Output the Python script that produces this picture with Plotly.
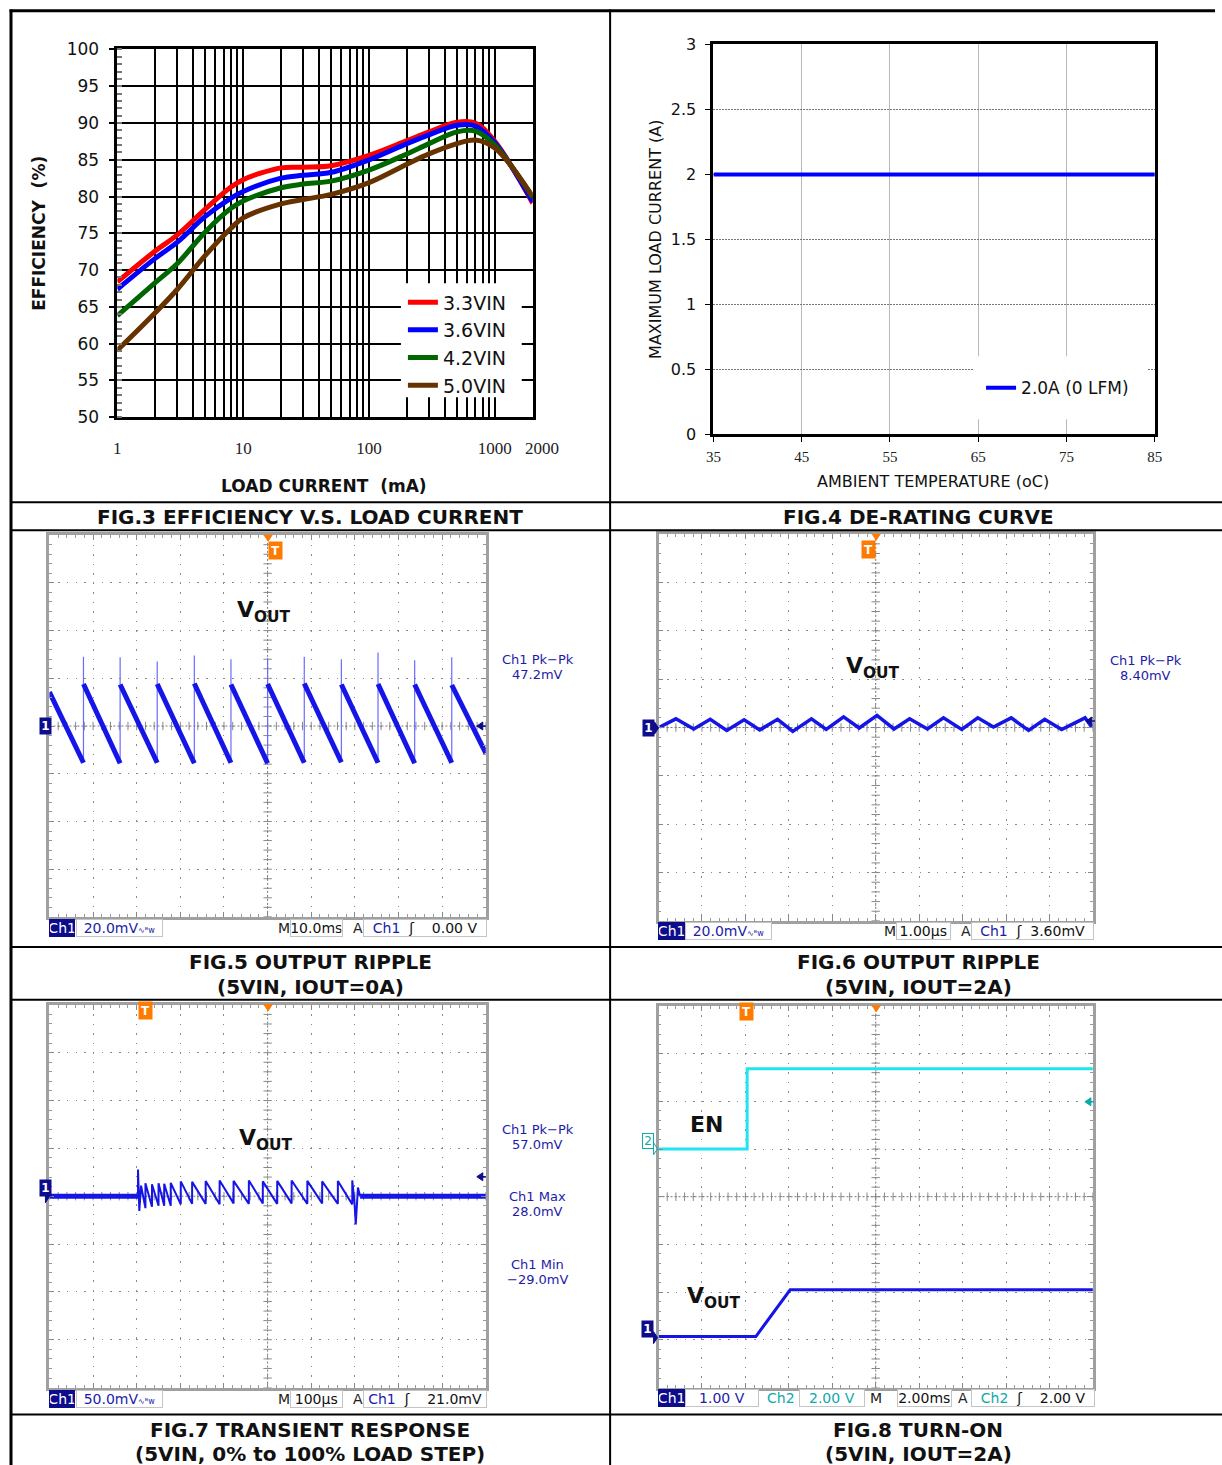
import numpy as np
import plotly.graph_objects as go

# Figure canvas size; positions below are given in reference-picture pixels and mapped
# onto the canvas by fx/fy (the captured page shows the canvas slightly scaled/offset).
W, H = 1222, 1465
SX, BX = 0.990, 5.5
SY, BY = 0.987, 8.5


def fx(p):
    return ((p - BX) / SX) / W


def fy(p):
    return 1 - ((p - BY) / SY) / H


# ---------------- DATA ----------------
# FIG.3 efficiency vs load current
load_ma = [1, 2, 3, 5, 8, 10, 20, 30, 50, 100, 200, 300, 500, 700, 1000, 2000]
eff_33 = [68.4, 72.6, 74.8, 78.3, 81.3, 82.3, 83.9, 84.0, 84.2, 85.6, 87.6, 88.8, 90.1, 90.0, 87.5, 79.1]
eff_36 = [67.4, 71.6, 73.8, 77.3, 79.8, 80.7, 82.5, 82.9, 83.3, 85.0, 87.2, 88.4, 89.7, 89.6, 87.3, 79.3]
eff_42 = [63.8, 68.3, 70.9, 75.2, 78.4, 79.4, 81.2, 81.7, 82.1, 83.6, 85.8, 87.2, 88.8, 88.9, 87.0, 79.9]
eff_50 = [59.1, 64.2, 67.4, 72.0, 75.7, 77.1, 79.0, 79.6, 80.3, 81.9, 84.4, 85.8, 87.2, 87.7, 86.6, 80.0]
eff_names = ["3.3VIN", "3.6VIN", "4.2VIN", "5.0VIN"]
eff_colors = ["#ff0000", "#0000ff", "#006600", "#663300"]
eff_xticks = [1, 10, 100, 1000, 2000]
eff_xtick_text = ["1", "10", "100", "1000", ""]

# FIG.4 de-rating curve
temp_c = [35, 85]
max_load_a = [2.0, 2.0]

# FIG.5 output ripple, IOUT=0A (divisions)
rip0_jump_t = [0.78, 1.62, 2.47, 3.32, 4.16, 5.00, 5.84, 6.69, 7.53, 8.37, 9.22]
rip0_spike_v = [1.45, 1.44, 1.35, 1.48, 1.40, 1.42, 1.45, 1.40, 1.54, 1.38, 1.44]
rip0_ramp_start_v = [0.71, 0.88, 0.87, 0.88, 0.89, 0.87, 0.88, 0.89, 0.87, 0.88, 0.87, 0.86]
rip0_ramp_end_v = [-0.77, -0.78, -0.77, -0.78, -0.77, -0.78, -0.77, -0.76, -0.77, -0.78, -0.77, -0.57]

# FIG.6 output ripple, IOUT=2A (divisions)
rip2_t = [0.03, 0.40, 0.81, 1.19, 1.57, 1.97, 2.33, 2.74, 3.09, 3.52, 3.86, 4.26, 4.62, 5.03,
          5.42, 5.78, 6.19, 6.56, 6.98, 7.35, 7.71, 8.12, 8.52, 8.89, 9.28, 9.82, 9.97]
rip2_v = [0.01, 0.18, -0.03, 0.17, -0.06, 0.16, -0.05, 0.17, -0.08, 0.18, -0.04, 0.22, -0.01, 0.25,
          -0.03, 0.18, -0.03, 0.20, -0.04, 0.20, 0.01, 0.20, -0.06, 0.17, -0.04, 0.20, 0.01]

# FIG.7 transient response (divisions)
tr_band_t = [0.0, 2.03, None, 7.12, 10.0]
tr_band_v = [0.0, 0.0, None, 0.0, 0.0]
tr_on_t = [2.03, 2.03, 2.06, 2.10]
tr_on_v = [0.0, 0.56, -0.31, 0.22]
tr_tooth_t = [2.20, 2.35, 2.50, 2.63, 2.78, 3.01, 3.27, 3.58, 3.90, 4.22, 4.57, 4.89, 5.22, 5.55,
              5.91, 6.25, 6.61, 6.94]
tr_tooth_top = [0.27, 0.25, 0.27, 0.26, 0.28, 0.31, 0.30, 0.32, 0.33, 0.32, 0.33, 0.31, 0.32, 0.33,
                0.32, 0.31, 0.32, 0.33]
tr_tooth_low = [-0.25, -0.22, -0.20, -0.20, -0.20, -0.17, -0.16, -0.16, -0.17, -0.15, -0.16, -0.15,
                -0.16, -0.15, -0.16, -0.15, -0.16, -0.17]
tr_off_t = [6.99, 7.02, 7.07, 7.12]
tr_off_v = [-0.12, -0.59, 0.18, 0.0]

# FIG.8 turn-on (divisions)
en_t = [0.0, 2.04, 2.04, 10.0]
en_v = [1.0, 1.0, 2.68, 2.68]
vout_t = [0.0, 2.24, 3.03, 10.0]
vout_v = [-2.93, -2.93, -1.95, -1.95]

# ---------------- FIGURE ----------------
fig = go.Figure()
BLUE_W = "#1515e8"
CYAN_W = "#22e4f0"
TXT_BLUE = "#1c1ca8"
TEAL = "#10a8a8"
NAVY = "#0c0c8c"
ORANGE = "#ff7a00"

# FIG.3 traces
for name, col, vals in zip(eff_names, eff_colors, [eff_33, eff_36, eff_42, eff_50]):
    fig.add_trace(go.Scatter(x=load_ma, y=vals, mode="lines", name=name,
                             line=dict(color=col, width=5, shape="spline", smoothing=1.0),
                             xaxis="x", yaxis="y", legend="legend", hoverinfo="skip"))

# FIG.4 trace
fig.add_trace(go.Scatter(x=temp_c, y=max_load_a, mode="lines", name="2.0A (0 LFM)",
                         line=dict(color="#0000ff", width=4), xaxis="x2", yaxis="y2",
                         legend="legend2", hoverinfo="skip"))

# scope center-cross tick decorations
div_x = list(np.round(np.arange(0, 10.001, 0.2), 3))
div_y = list(np.round(np.arange(-4, 4.001, 0.2), 3))
for k in range(3, 7):
    xa, ya = "x%d" % k, "y%d" % k
    fig.add_trace(go.Scatter(x=div_x, y=[0] * len(div_x), mode="markers", xaxis=xa, yaxis=ya,
                             marker=dict(symbol="line-ns", size=6, line=dict(width=1, color="#888")),
                             showlegend=False, hoverinfo="skip"))
    fig.add_trace(go.Scatter(x=[5] * len(div_y), y=div_y, mode="markers", xaxis=xa, yaxis=ya,
                             marker=dict(symbol="line-ew", size=6, line=dict(width=1, color="#888")),
                             showlegend=False, hoverinfo="skip"))

# FIG.5 waveform
starts = [0.0] + rip0_jump_t
ends = rip0_jump_t + [10.0]
rx, ry = [], []
for s, e, a, b in zip(starts, ends, rip0_ramp_start_v, rip0_ramp_end_v):
    rx += [s, e, None]
    ry += [a, b, None]
sx, sy = [], []
for t, lo, pk in zip(rip0_jump_t, rip0_ramp_end_v, rip0_spike_v):
    sx += [t, t, None]
    sy += [lo, pk, None]
fig.add_trace(go.Scatter(x=sx, y=sy, mode="lines", line=dict(color="#6a6aff", width=1.2),
                         xaxis="x3", yaxis="y3", showlegend=False, hoverinfo="skip"))
fig.add_trace(go.Scatter(x=rx, y=ry, mode="lines", line=dict(color=BLUE_W, width=5),
                         xaxis="x3", yaxis="y3", showlegend=False, hoverinfo="skip"))

# FIG.6 waveform
fig.add_trace(go.Scatter(x=rip2_t, y=rip2_v, mode="lines", line=dict(color=BLUE_W, width=3.5),
                         xaxis="x4", yaxis="y4", showlegend=False, hoverinfo="skip"))

# FIG.7 waveform
fig.add_trace(go.Scatter(x=tr_band_t, y=tr_band_v, mode="lines", line=dict(color=BLUE_W, width=5),
                         xaxis="x5", yaxis="y5", showlegend=False, hoverinfo="skip"))
tx, ty = list(tr_on_t), list(tr_on_v)
for t, top, lo in zip(tr_tooth_t, tr_tooth_top, tr_tooth_low):
    tx += [t, t]
    ty += [lo, top]
tx += tr_off_t
ty += tr_off_v
fig.add_trace(go.Scatter(x=tx, y=ty, mode="lines", line=dict(color=BLUE_W, width=2),
                         xaxis="x5", yaxis="y5", showlegend=False, hoverinfo="skip"))

# FIG.8 waveforms
fig.add_trace(go.Scatter(x=en_t, y=en_v, mode="lines", line=dict(color=CYAN_W, width=3),
                         xaxis="x6", yaxis="y6", showlegend=False, hoverinfo="skip"))
fig.add_trace(go.Scatter(x=vout_t, y=vout_v, mode="lines", line=dict(color=BLUE_W, width=3),
                         xaxis="x6", yaxis="y6", showlegend=False, hoverinfo="skip"))

# ---------------- AXES ----------------
layout = dict(
    width=W, height=H, autosize=False, margin=dict(l=0, r=0, t=0, b=0, pad=0),
    paper_bgcolor="white", plot_bgcolor="white",
    font=dict(family="DejaVu Sans", color="#111"),
)

layout["xaxis"] = dict(
    domain=[fx(116), fx(532)], type="log", range=[0, np.log10(2000)],
    tickvals=eff_xticks, ticktext=eff_xtick_text, tickangle=0,
    tickfont=dict(family="Liberation Serif", size=17, color="#222"),
    ticks="", ticklabelstandoff=14,
    showgrid=True, gridcolor="#000", gridwidth=1.6,
    minor=dict(tickvals=[2, 3, 4, 5, 6, 7, 8, 9, 20, 30, 40, 50, 60, 70, 80, 90,
                         200, 300, 400, 500, 600, 700, 800, 900],
               showgrid=True, gridcolor="#000", gridwidth=1.6, ticks=""),
    showline=True, linecolor="#000", linewidth=2.5, mirror=True, zeroline=False, fixedrange=True,
)
layout["yaxis"] = dict(
    domain=[fy(416), fy(48)], range=[50, 100], dtick=5,
    tickfont=dict(family="DejaVu Sans", size=17, color="#111"),
    ticks="outside", ticklen=6, tickcolor="#000", tickwidth=1.5, ticklabelstandoff=6,
    showgrid=True, gridcolor="#000", gridwidth=1.6,
    minor=dict(dtick=1, ticks="inside", ticklen=5, tickcolor="#777", showgrid=False),
    showline=True, linecolor="#000", linewidth=2.5, mirror=True, zeroline=False, fixedrange=True,
)

layout["xaxis2"] = dict(
    domain=[fx(713), fx(1155)], range=[35, 85], tick0=35, dtick=10, anchor="y2", tickangle=0,
    tickfont=dict(family="Liberation Serif", size=15, color="#222"),
    ticks="outside", ticklen=5, tickcolor="#000", ticklabelstandoff=2,
    showgrid=True, gridcolor="#b8b8b8", gridwidth=1,
    showline=True, linecolor="#000", linewidth=3, mirror=True, zeroline=False, fixedrange=True,
)
layout["yaxis2"] = dict(
    domain=[fy(433), fy(43)], range=[0, 3], dtick=0.5, anchor="x2",
    tickfont=dict(family="DejaVu Sans", size=16, color="#111"),
    ticks="outside", ticklen=5, tickcolor="#000", ticklabelstandoff=6,
    showgrid=True, gridcolor="#777", gridwidth=1, griddash="2px,1px",
    showline=True, linecolor="#000", linewidth=3, mirror=True, zeroline=False, fixedrange=True,
)

scope_boxes = {
    3: (48, 485, 534, 916),
    4: (658, 1093, 533, 920),
    5: (48, 485, 1004, 1387),
    6: (658, 1093, 1005, 1387),
}
for k, (x0, x1, y0, y1) in scope_boxes.items():
    layout["xaxis%d" % k] = dict(
        domain=[fx(x0), fx(x1)], range=[0, 10], dtick=1, anchor="y%d" % k,
        showticklabels=False, ticks="inside", ticklen=5, tickcolor="#888",
        minor=dict(dtick=0.2, ticks="inside", ticklen=3, tickcolor="#999"),
        showgrid=True, gridcolor="#8a8a8a", gridwidth=1.2, griddash="1.5px,8px",
        showline=True, linecolor="#a0a0a0", linewidth=2.5, mirror="allticks",
        zeroline=False, fixedrange=True,
    )
    layout["yaxis%d" % k] = dict(
        domain=[fy(y1), fy(y0)], range=[-4, 4], dtick=1, anchor="x%d" % k,
        showticklabels=False, ticks="inside", ticklen=5, tickcolor="#888",
        minor=dict(dtick=0.2, ticks="inside", ticklen=3, tickcolor="#999"),
        showgrid=True, gridcolor="#8a8a8a", gridwidth=1.2, griddash="1.5px,7.2px",
        showline=True, linecolor="#a0a0a0", linewidth=2.5, mirror="allticks",
        zeroline=False, fixedrange=True,
    )

layout["legend"] = dict(
    x=fx(402), y=fy(282), xanchor="left", yanchor="top", bgcolor="rgba(0,0,0,0)",
    font=dict(family="DejaVu Sans", size=19, color="#111"),
    tracegroupgap=0, itemwidth=30,
)
layout["legend2"] = dict(
    x=fx(981), y=fy(369), xanchor="left", yanchor="top", bgcolor="rgba(0,0,0,0)",
    font=dict(family="DejaVu Sans", size=17, color="#111"), itemwidth=30,
)

# ---------------- SHAPES ----------------
shapes = []
# white areas behind legends (hide gridlines; no data passes here)
shapes.append(dict(type="rect", xref="paper", yref="paper",
                   x0=fx(400), x1=fx(521), y0=fy(396), y1=fy(282),
                   fillcolor="white", line=dict(width=0), layer="above"))
shapes.append(dict(type="rect", xref="paper", yref="paper",
                   x0=fx(973), x1=fx(1148), y0=fy(418), y1=fy(355),
                   fillcolor="white", line=dict(width=0), layer="above"))
# scope center cross lines
for k in range(3, 7):
    shapes.append(dict(type="line", xref="x%d" % k, yref="y%d domain" % k, x0=5, x1=5, y0=0, y1=1,
                       line=dict(color="#777", width=1, dash="2px,2px"), layer="below"))
    shapes.append(dict(type="line", xref="x%d domain" % k, yref="y%d" % k, x0=0, x1=1, y0=0, y1=0,
                       line=dict(color="#777", width=1, dash="2px,2px"), layer="below"))


def pline(x0, y0, x1, y1, w=2):
    return dict(type="line", xref="paper", yref="paper", x0=fx(x0), y0=fy(y0), x1=fx(x1), y1=fy(y1),
                line=dict(color="#000", width=w), layer="above")


def tri(pts, color, fill=True):
    path = "M " + " L ".join("%.5f,%.5f" % (fx(a), fy(b)) for a, b in pts) + " Z"
    return dict(type="path", xref="paper", yref="paper", path=path,
                fillcolor=color if fill else "rgba(0,0,0,0)",
                line=dict(color=color, width=1), layer="above")


# table frame
shapes.append(dict(type="line", xref="paper", yref="paper", x0=fx(8), x1=1.0, y0=0.9995, y1=0.9995,
                   line=dict(color="#000", width=3), layer="above"))
shapes.append(pline(9.5, 8, 9.5, 1470, 3))
shapes.append(pline(609.5, 8, 609.5, 1470, 2))
for yy in [501, 529, 946, 999, 1414]:
    shapes.append(pline(9, yy, 1230, yy, 2))

# trigger position pointers (top edge)
for xa, ya in [(267, 534), (876, 533), (267, 1004), (876, 1005)]:
    shapes.append(tri([(xa - 4, ya), (xa + 4, ya), (xa, ya + 6)], ORANGE))
# channel level pointers (left edge)
for xc, yc in [(44, 725), (654, 727), (44, 1196), (653, 1337)]:
    shapes.append(tri([(xc, yc - 6), (xc + 4, yc), (xc, yc + 6)], NAVY))
shapes.append(tri([(653, 1142), (657, 1148), (653, 1154)], TEAL, fill=False))
# right-edge trigger level arrows
for xr, yr, col in [(476, 725, NAVY), (1086, 720, NAVY), (476, 1176, NAVY), (1085, 1101, TEAL)]:
    shapes.append(tri([(xr + 6, yr - 4), (xr, yr), (xr + 6, yr + 4)], col))
    shapes.append(dict(type="line", xref="paper", yref="paper", x0=fx(xr + 5), x1=fx(xr + 9),
                       y0=fy(yr), y1=fy(yr), line=dict(color=col, width=1.5), layer="above"))
layout["shapes"] = shapes

# ---------------- ANNOTATIONS ----------------
ann = []


def txt(x, y, text, size=14, color="#111", family="DejaVu Sans", xanchor="center",
        yanchor="middle", angle=0):
    ann.append(dict(x=fx(x), y=fy(y), xref="paper", yref="paper", text=text, showarrow=False,
                    font=dict(family=family, size=size, color=color), xanchor=xanchor,
                    yanchor=yanchor, textangle=angle))


def box(x0, x1, yc, text, color=TXT_BLUE, bg="white", border="#c4c4c4", size=14):
    ann.append(dict(x=fx((x0 + x1) / 2), y=fy(yc), xref="paper", yref="paper", text=text,
                    showarrow=False, font=dict(family="DejaVu Sans", size=size, color=color),
                    bgcolor=bg, bordercolor=border, borderwidth=1, borderpad=0,
                    width=(x1 - x0) / SX - 2, height=16, xanchor="center", yanchor="middle"))


# FIG.3 extra tick label (2000 sits right of the axis end in the reference)
txt(541, 447, "2000", size=17, color="#222", family="Liberation Serif")

# FIG.3 / FIG.4 titles
txt(38, 232, "<b>EFFICIENCY  (%)</b>", size=17, angle=-90)
txt(323, 485, "<b>LOAD CURRENT  (mA)</b>", size=17)
txt(655, 238, "MAXIMUM LOAD CURRENT (A)", size=16, angle=-90)
txt(933, 480, "AMBIENT TEMPERATURE (oC)", size=16)

# captions
txt(309, 516, "<b>FIG.3 EFFICIENCY V.S. LOAD CURRENT</b>", size=20)
txt(918, 516, "<b>FIG.4 DE-RATING CURVE</b>", size=20)
txt(309, 961, "<b>FIG.5 OUTPUT RIPPLE</b>", size=20)
txt(309, 986, "<b>(5VIN, IOUT=0A)</b>", size=20)
txt(918, 961, "<b>FIG.6 OUTPUT RIPPLE</b>", size=20)
txt(918, 986, "<b>(5VIN, IOUT=2A)</b>", size=20)
txt(309, 1429, "<b>FIG.7 TRANSIENT RESPONSE</b>", size=20)
txt(309, 1453, "<b>(5VIN, 0% to 100% LOAD STEP)</b>", size=20)
txt(918, 1429, "<b>FIG.8 TURN-ON</b>", size=20)
txt(918, 1453, "<b>(5VIN, IOUT=2A)</b>", size=20)

# waveform labels
txt(263, 610, "<b>V<sub>OUT</sub></b>", size=22)
txt(873, 666, "<b>V<sub>OUT</sub></b>", size=22)
txt(265, 1139, "<b>V<sub>OUT</sub></b>", size=22)
txt(714, 1297, "<b>V<sub>OUT</sub></b>", size=22)
txt(706, 1124, "<b>EN</b>", size=22)

# measurement readouts
txt(537, 658, "Ch1 Pk−Pk", size=13, color=TXT_BLUE)
txt(537, 673, "47.2mV", size=13, color=TXT_BLUE)
txt(1146, 659, "Ch1 Pk−Pk", size=13, color=TXT_BLUE)
txt(1146, 674, "8.40mV", size=13, color=TXT_BLUE)
txt(537, 1129, "Ch1 Pk−Pk", size=13, color=TXT_BLUE)
txt(537, 1144, "57.0mV", size=13, color=TXT_BLUE)
txt(537, 1196, "Ch1 Max", size=13, color=TXT_BLUE)
txt(537, 1211, "28.0mV", size=13, color=TXT_BLUE)
txt(537, 1264, "Ch1 Min", size=13, color=TXT_BLUE)
txt(537, 1279, "−29.0mV", size=13, color=TXT_BLUE)

# trigger markers
for (xt, yt) in [(267, 549), (876, 548), (137, 1019), (746, 1020)]:
    ann.append(dict(x=fx(xt), y=fy(yt), xref="paper", yref="paper", text="<b>T</b>",
                    showarrow=False, font=dict(family="DejaVu Sans", size=12, color="white"),
                    bgcolor=ORANGE, borderpad=1, width=11, height=15))

# channel markers
for (xc, yc) in [(38, 725), (648, 727), (38, 1196), (647, 1337)]:
    ann.append(dict(x=fx(xc), y=fy(yc), xref="paper", yref="paper", text="<b>1</b>",
                    showarrow=False, font=dict(family="DejaVu Sans", size=12, color="white"),
                    bgcolor=NAVY, borderpad=0, width=11, height=16))
ann.append(dict(x=fx(647), y=fy(1148), xref="paper", yref="paper", text="2",
                showarrow=False, font=dict(family="DejaVu Sans", size=12, color=TEAL),
                bgcolor="white", bordercolor=TEAL, borderwidth=1, borderpad=0, width=10, height=14))

# status bars
SM = "<span style='font-size:8px'>∿ᴮw</span>"
for (y, volts, tb, trig) in [(927, "20.0mV", "10.0ms", "0.00 V"),
                             (1398, "50.0mV", "100µs", "21.0mV")]:
    box(48, 74, y, "Ch1", color="white", bg=NAVY, border=NAVY)
    box(75, 161, y, volts + SM)
    txt(283, y, "M", size=14, color="#222")
    box(289, 341, y, tb, color="#111")
    txt(357, y, "A", size=14, color="#222")
    box(363, 486, y, "<span style='color:%s'>Ch1</span>&nbsp;&nbsp;ʃ&nbsp;&nbsp;&nbsp;&nbsp;%s" % (TXT_BLUE, trig),
        color="#111")

box(657, 684, 930, "Ch1", color="white", bg=NAVY, border=NAVY)
box(685, 771, 930, "20.0mV" + SM)
txt(890, 930, "M", size=14, color="#222")
box(896, 950, 930, "1.00µs", color="#111")
txt(966, 930, "A", size=14, color="#222")
box(972, 1094, 930, "<span style='color:%s'>Ch1</span>&nbsp;&nbsp;ʃ&nbsp;&nbsp;3.60mV" % TXT_BLUE, color="#111")

box(657, 684, 1397, "Ch1", color="white", bg=NAVY, border=NAVY)
box(685, 758, 1397, "1.00 V")
txt(781, 1397, "Ch2", size=14, color=TEAL)
box(799, 864, 1397, "2.00 V", color=TEAL)
txt(876, 1397, "M", size=14, color="#222")
box(897, 951, 1397, "2.00ms", color="#111")
txt(963, 1397, "A", size=14, color="#222")
box(972, 1095, 1397, "<span style='color:%s'>Ch2</span>&nbsp;&nbsp;ʃ&nbsp;&nbsp;&nbsp;&nbsp;2.00 V" % TEAL, color="#111")

layout["annotations"] = ann
fig.update_layout(**layout)
fig.write_html("out.html", config={"responsive": False})
